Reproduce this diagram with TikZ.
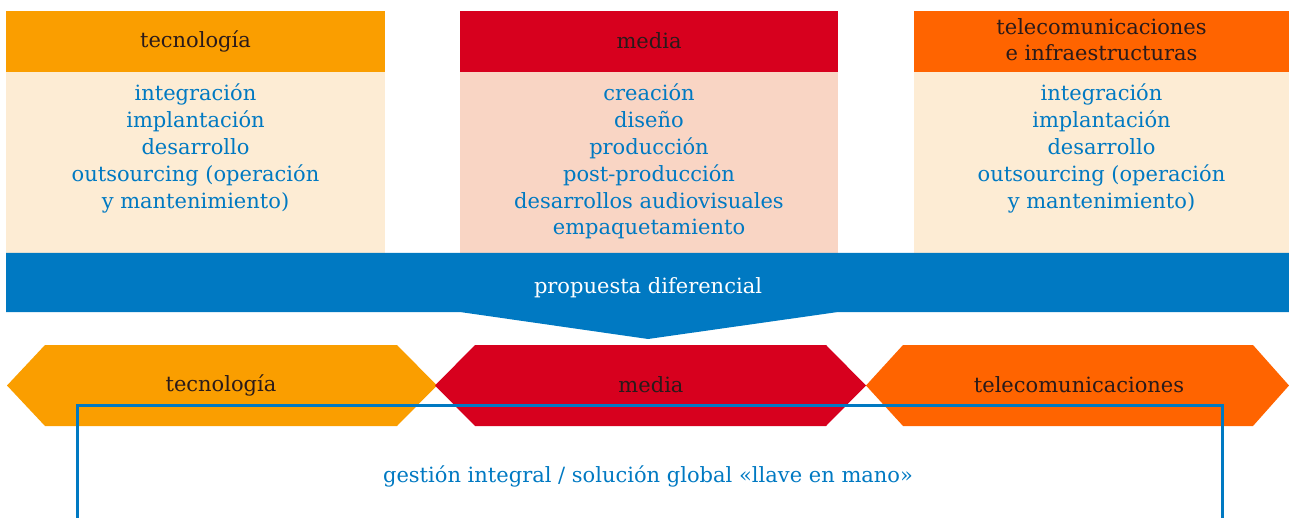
\documentclass[tikz,border=0pt]{standalone}
\usepackage{fontspec}
\setmainfont{DejaVu Serif}
\definecolor{cOrange}{HTML}{FA9E00}
\definecolor{cCream}{HTML}{FDECD4}
\definecolor{cRed}{HTML}{D7001E}
\definecolor{cPink}{HTML}{F9D5C4}
\definecolor{cTele}{HTML}{FF6400}
\definecolor{cBlue}{HTML}{0079C2}
\definecolor{cDark}{HTML}{2A1A1A}
\tikzset{
  hdr/.style={font=\fontsize{21}{26}\selectfont, text=cDark, align=center, inner sep=0pt},
  bodytxt/.style={font=\fontsize{21}{26.8}\selectfont, text=cBlue, align=center, inner sep=0pt},
  hextxt/.style={font=\fontsize{21}{26}\selectfont, text=cDark},
  frametxt/.style={font=\fontsize{21}{26}\selectfont, text=cBlue},
}
\begin{document}
\begin{tikzpicture}[x=1pt,y=-1pt]
\useasboundingbox (0,0) rectangle (1289,518);
% top boxes
\fill[cOrange] (6,11) rectangle (385,72);
\fill[cCream] (6,72) rectangle (385,253);
\fill[cRed] (460,11) rectangle (838,72);
\fill[cPink] (460,72) rectangle (838,253);
\fill[cTele] (914,11) rectangle (1289,72);
\fill[cCream] (914,72) rectangle (1289,253);
\node[hdr] (h1) at (195.5,41) {tecnología};
\node[hdr] (h2) at (649,41) {media};
\node[hdr] (h3) at (1101.5,40) {telecomunicaciones\\e infraestructuras};
\node[bodytxt, anchor=north] (b1) at (195.5,84) {integración\\implantación\\desarrollo\\outsourcing (operación\\y mantenimiento)};
\node[bodytxt, anchor=north] (b2) at (649,84) {creación\\diseño\\producción\\post-producción\\desarrollos audiovisuales\\empaquetamiento};
\node[bodytxt, anchor=north] (b3) at (1101.5,84) {integración\\implantación\\desarrollo\\outsourcing (operación\\y mantenimiento)};
% blue band with arrow
\fill[cBlue] (6,253) -- (1289,253) -- (1289,312) -- (838,312) -- (648,339) -- (460,312) -- (6,312) -- cycle;
\node[font=\fontsize{21}{26}\selectfont, text=white] (pd) at (648,288) {propuesta diferencial};
% hexagons
\fill[cOrange] (7,385.5) -- (45,345) -- (397,345) -- (437,385.5) -- (397,426) -- (45,426) -- cycle;
\fill[cRed] (435,385.5) -- (475,345) -- (826,345) -- (866,385.5) -- (826,426) -- (475,426) -- cycle;
\fill[cTele] (866,385.5) -- (903,345) -- (1253,345) -- (1289,385.5) -- (1253,426) -- (903,426) -- cycle;
\node[hextxt] (x1) at (221,385) {tecnología};
\node[hextxt] (x2) at (651,385) {media};
\node[hextxt] (x3) at (1079,385) {telecomunicaciones};
% frame
\draw[cBlue, line width=3pt] (77,518) -- (77,405) -- (1222,405) -- (1222,518);
\node[frametxt] (g) at (648,476) {gestión integral / solución global «llave en mano»};
\end{tikzpicture}
\end{document}
